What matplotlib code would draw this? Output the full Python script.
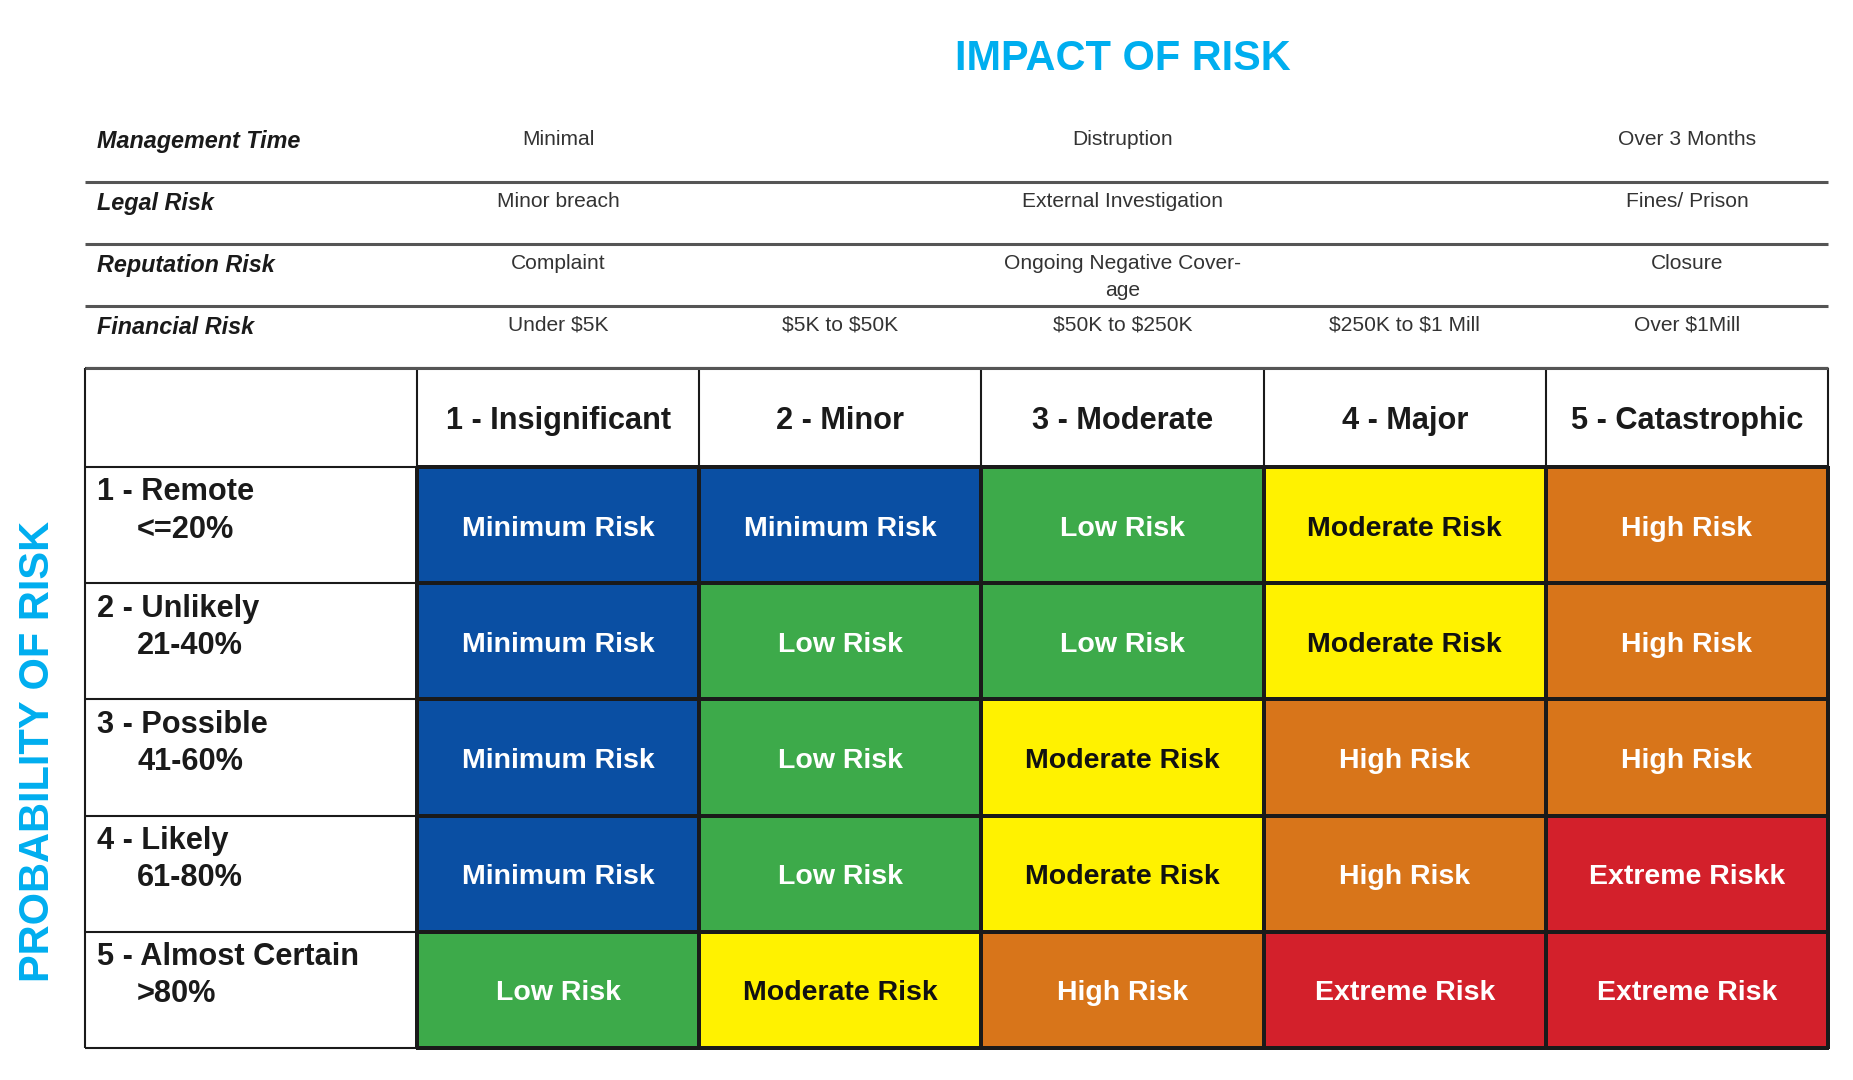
import matplotlib.pyplot as plt
import numpy as np
from matplotlib import font_manager
from matplotlib.colors import ListedColormap

# ---- data ----
impact_levels = ['1 - Insignificant', '2 - Minor', '3 - Moderate', '4 - Major', '5 - Catastrophic']
prob_levels = ['1 - Remote', '2 - Unlikely', '3 - Possible', '4 - Likely', '5 - Almost Certain']
prob_ranges = ['<=20%', '21-40%', '41-60%', '61-80%', '>80%']

risk_names = ['Minimum Risk', 'Low Risk', 'Moderate Risk', 'High Risk', 'Extreme Risk']
risk_grid = [[0, 0, 1, 2, 3],
             [0, 1, 1, 2, 3],
             [0, 1, 2, 3, 3],
             [0, 1, 2, 3, 4],
             [1, 2, 3, 4, 4]]

info_rows = ['Management Time', 'Legal Risk', 'Reputation Risk', 'Financial Risk']
management_time = ['Minimal', '', 'Distruption', '', 'Over 3 Months']
legal_risk = ['Minor breach', '', 'External Investigation', '', 'Fines/ Prison']
reputation_risk = ['Complaint', '', 'Ongoing Negative Cover-\nage', '', 'Closure']
financial_risk = ['Under $5K', '$5K to $50K', '$50K to $250K', '$250K to $1 Mill', 'Over $1Mill']
info_values = [management_time, legal_risk, reputation_risk, financial_risk]

risk_colors = ['#0A4FA3', '#3DAA4A', '#FFF200', '#D8751A', '#D3202B']
text_colors = ['white', 'white', '#111111', 'white', 'white']

# ---- fonts ----
names = {f.name for f in font_manager.fontManager.ttflist}
if 'Liberation Sans Narrow' in names:
    narrow, k = 'Liberation Sans Narrow', 1.0
else:
    narrow, k = 'Liberation Sans', 0.82
wide = 'Liberation Sans'

# ---- layout (one unit = one matrix cell) ----
cw, rh = 282.2, 116.2          # cell size in px
x0, y0 = 417, 467              # top-left of matrix in px
lab_w = 332 / cw               # width of label column
head_h = 99 / rh               # header row height
info_h = 62 / rh               # info row height

fig = plt.figure(figsize=(18.53, 10.80), dpi=100)
ax = fig.add_axes([0, 0, 1, 1])
ax.set_xlim(-x0 / cw, (1853 - x0) / cw)
ax.set_ylim((1080 - y0) / rh, -y0 / rh)
ax.axis('off')

# matrix cells
cmap = ListedColormap(risk_colors)
ax.pcolormesh(np.arange(6), np.arange(6), np.array(risk_grid), cmap=cmap,
              vmin=-0.5, vmax=4.5, edgecolors='#1a1a1a', linewidth=1.5)

for i in range(5):
    for j in range(5):
        lvl = risk_grid[i][j]
        label = risk_names[lvl]
        if i == 3 and j == 4:
            label = 'Extreme Riskk'
        ax.text(j + 0.5, i + 0.53, label, ha='center', va='center',
                color=text_colors[lvl], fontsize=20.5, fontweight='bold', family=wide)

# grid lines of header row and label column
ax.hlines([-head_h, 0, 1, 2, 3, 4, 5], -lab_w, 5, color='#1a1a1a', lw=1.5)
ax.vlines([-lab_w, 0, 1, 2, 3, 4, 5], -head_h, 5, color='#1a1a1a', lw=1.5)

for j, name in enumerate(impact_levels):
    ax.text(j + 0.5, -head_h / 2 + 0.03, name, ha='center', va='center', color='#1a1a1a',
            fontsize=27 * k, fontweight='bold', family=narrow)

for i, (name, rng) in enumerate(zip(prob_levels, prob_ranges)):
    ax.text(-lab_w + 0.043, i + 0.09, name, ha='left', va='top', color='#1a1a1a',
            fontsize=27 * k, fontweight='bold', family=narrow)
    ax.text(-lab_w + 0.185, i + 0.41, rng, ha='left', va='top', color='#1a1a1a',
            fontsize=27 * k, fontweight='bold', family=narrow)

# info table above
info_top = -head_h - len(info_rows) * info_h
ax.hlines([info_top + (r + 1) * info_h for r in range(len(info_rows) - 1)] + [-head_h],
          -lab_w, 5, color='#555555', lw=2.2)
for r, (name, vals) in enumerate(zip(info_rows, info_values)):
    yt = info_top + r * info_h + 0.085
    ax.text(-lab_w + 0.043, yt, name, ha='left', va='top', color='#1a1a1a',
            fontsize=20.5 * k, fontweight='bold', style='italic', family=narrow)
    for j, v in enumerate(vals):
        if v:
            ax.text(j + 0.5, yt, v, ha='center', va='top', color='#333333',
                    fontsize=18.5 * k, family=narrow, linespacing=1.55, parse_math=False)

# titles
ax.text(2.5, -3.51, 'IMPACT OF RISK', ha='center', va='center', color='#00AEEF',
        fontsize=36.5 * k, fontweight='bold', family=narrow)
ax.text(-1.343, 2.45, 'PROBABILITY OF RISK', ha='center', va='center', rotation=90,
        color='#00AEEF', fontsize=30, fontweight='bold', family=wide)

fig.savefig('out.png', dpi=100, facecolor='white')
